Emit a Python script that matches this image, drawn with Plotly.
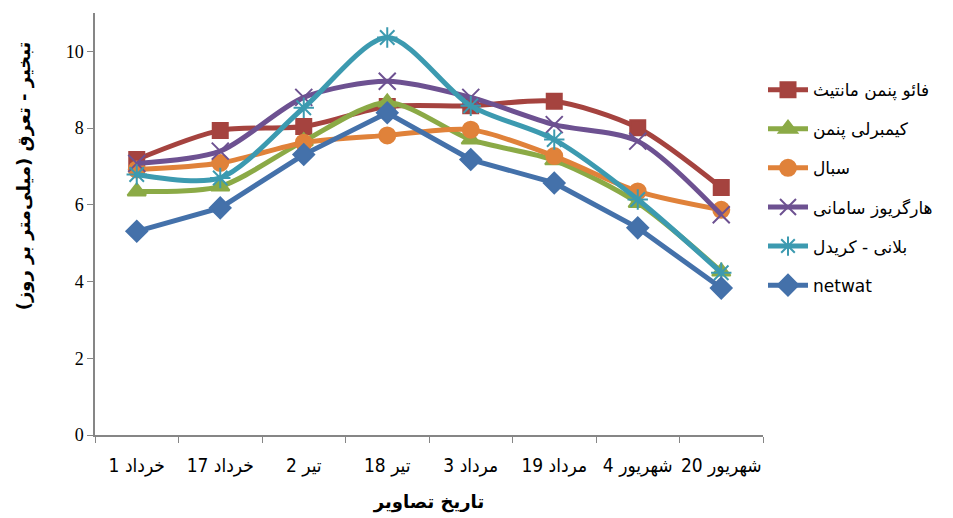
import plotly.graph_objects as go

categories = ["1 خرداد", "17 خرداد", "2 تیر", "18 تیر", "3 مرداد", "19 مرداد", "4 شهریور", "20 شهریور"]

fao = [7.18, 7.94, 8.04, 8.56, 8.58, 8.70, 8.01, 6.45]
kimberly = [6.35, 6.48, 7.66, 8.67, 7.70, 7.16, 6.05, 4.26]
sebal = [6.92, 7.09, 7.62, 7.81, 7.96, 7.27, 6.35, 5.87]
hargreaves = [7.08, 7.40, 8.80, 9.22, 8.80, 8.09, 7.66, 5.74]
blaney = [6.79, 6.70, 8.53, 10.36, 8.58, 7.70, 6.14, 4.23]
netwat = [5.31, 5.92, 7.31, 8.40, 7.18, 6.57, 5.40, 3.83]

series_names = ["فائو پنمن مانتیث", "کیمبرلی پنمن", "سبال", "هارگریوز سامانی", "بلانی - کریدل", "netwat"]
y_ticks = [0, 2, 4, 6, 8, 10]

# force left-to-right display of "number + month" labels
x_labels = ["\u200e" + c for c in categories]

series = [
    (series_names[0], fao, "#A5433F", "square", 15, "spline"),
    (series_names[1], kimberly, "#8BAA46", "triangle-up", 16, "spline"),
    (series_names[2], sebal, "#E0823A", "circle", 16, "spline"),
    (series_names[3], hargreaves, "#6D5191", "x-thin-open", 17, "spline"),
    (series_names[4], blaney, "#3C9AB0", "asterisk-open", 17, "spline"),
    (series_names[5], netwat, "#4471AA", "diamond", 16, "linear"),
]

fig = go.Figure()
for i, (name, vals, color, sym, size, shape) in enumerate(series):
    fig.add_trace(go.Scatter(
        x=x_labels, y=vals, name=name, mode="lines+markers",
        line=dict(color=color, width=5, shape=shape, smoothing=0.8),
        marker=dict(symbol=sym, size=size, color=color,
                    line=dict(color=color, width=2)),
        legendgroup=str(i),
        legendrank=i + 1,
    ))

axis_color = "#868686"
W, H = 945, 510
fig.update_layout(
    width=W, height=H,
    paper_bgcolor="white", plot_bgcolor="white",
    margin=dict(l=87, r=190, t=5, b=83),
    showlegend=True,
    legend=dict(
        x=1.0, y=0.86, xanchor="left", yanchor="top",
        font=dict(family="DejaVu Sans", size=17, color="black"),
        tracegroupgap=14, itemwidth=40, bgcolor="rgba(0,0,0,0)",
        traceorder="grouped",
    ),
    xaxis=dict(
        type="category", showline=True, linecolor=axis_color, linewidth=1.5,
        ticks="outside", tickson="boundaries", ticklen=6, tickcolor=axis_color,
        tickangle=0, ticklabelstandoff=12,
        tickfont=dict(family="DejaVu Sans Condensed, DejaVu Sans", size=19, color="black"),
        showgrid=False, zeroline=False, range=[-0.5, 7.5], automargin=False,
        title=dict(text="<b>تاریخ تصاویر</b>", font=dict(family="DejaVu Sans", size=18, color="black"), standoff=20),
    ),
    yaxis=dict(
        showline=True, linecolor=axis_color, linewidth=1.5, range=[0, 11],
        tickvals=y_ticks, ticks="outside", ticklen=6, tickcolor=axis_color,
        tickfont=dict(family="Liberation Serif, Times New Roman, serif", size=18, color="black"),
        showgrid=False, zeroline=False, automargin=False,
    ),
    annotations=[dict(
        text="<b>تبخیر - تعرق (میلی‌متر بر روز)</b>", textangle=-90,
        xref="paper", yref="paper", x=-0.105, y=0.615,
        xanchor="center", yanchor="middle", showarrow=False,
        font=dict(family="DejaVu Sans", size=18, color="black"),
    )],
)

fig.write_html("out.html")
